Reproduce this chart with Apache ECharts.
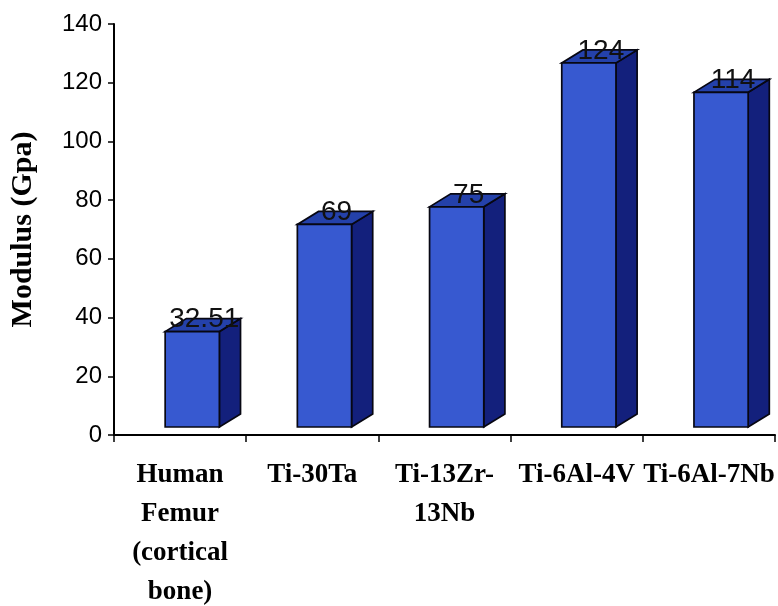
<!DOCTYPE html>
<html>
<head>
<meta charset="utf-8">
<script src="https://cdn.jsdelivr.net/npm/echarts@6/dist/echarts.min.js"></script>
<style>
  html, body { margin: 0; padding: 0; background: #ffffff; }
  #chart { width: 778px; height: 606px; }
</style>
</head>
<body>
<div id="chart"></div>
<script>
// Elastic modulus of cortical bone and titanium alloys
const categories = ['Human\nFemur\n(cortical\nbone)', 'Ti-30Ta', 'Ti-13Zr-\n13Nb', 'Ti-6Al-4V', 'Ti-6Al-7Nb'];
const modulus = [32.51, 69, 75, 124, 114];
const axisMin = 0;
const axisMax = 140;
const axisStep = 20;

const FRONT = '#3759d0';
const SIDE = '#13207c';
const TOP = '#2441aa';
const EDGE = '#070712';

// Draws one box-shaped column: front face, right side face, top face and value label
function renderBox(params, api) {
  const idx = api.value(0);
  const val = api.value(1);
  const base = api.coord([idx, 0]);
  const peak = api.coord([idx, val]);
  const band = api.size([1, 0])[0];

  const lift = 8;            // floor depth: columns stand behind the axis plane
  const w = band * 0.41;     // front face width
  const dx = band * 0.16;    // depth, horizontal
  const dy = -13;            // depth, vertical
  const x1 = base[0] - band * 0.113;
  const x2 = x1 + w;
  const yb = base[1] - lift;
  const yt = peak[1] - lift;

  const line = { stroke: EDGE, lineWidth: 1.7 };

  return {
    type: 'group',
    children: [
      {
        type: 'polygon',
        shape: { points: [[x2, yt], [x2 + dx, yt + dy], [x2 + dx, yb + dy], [x2, yb]] },
        style: Object.assign({ fill: SIDE }, line)
      },
      {
        type: 'polygon',
        shape: { points: [[x1, yt], [x2, yt], [x2 + dx, yt + dy], [x1 + dx, yt + dy]] },
        style: Object.assign({ fill: TOP }, line)
      },
      {
        type: 'rect',
        shape: { x: x1, y: yt, width: w, height: yb - yt },
        style: Object.assign({ fill: FRONT }, line)
      },
      {
        type: 'text',
        style: {
          text: String(val),
          x: (x1 + x2) / 2 + 12,
          y: yt + 2,
          align: 'center',
          verticalAlign: 'bottom',
          font: '28px "Liberation Sans", Arial, sans-serif',
          fill: '#111111'
        }
      }
    ]
  };
}

const chart = echarts.init(document.getElementById('chart'), null, { renderer: 'canvas' });

chart.setOption({
  backgroundColor: '#ffffff',
  animation: false,
  grid: { left: 114, right: 3, top: 24, bottom: 171, containLabel: false, outerBoundsMode: 'none' },
  xAxis: {
    type: 'category',
    data: categories,
    boundaryGap: true,
    axisLine: { lineStyle: { color: '#000000', width: 2 } },
    axisTick: { show: true, length: 7, alignWithLabel: false, lineStyle: { color: '#000000', width: 1.5 } },
    axisLabel: {
      interval: 0,
      margin: 21,
      color: '#000000',
      fontFamily: '"Liberation Serif", "Times New Roman", serif',
      fontWeight: 'bold',
      fontSize: 27,
      lineHeight: 39,
      hideOverlap: false
    },
    splitLine: { show: false }
  },
  yAxis: {
    type: 'value',
    min: axisMin,
    max: axisMax,
    interval: axisStep,
    name: 'Modulus (Gpa)',
    nameLocation: 'middle',
    nameGap: 76,
    nameTextStyle: {
      color: '#000000',
      fontFamily: '"Liberation Serif", "Times New Roman", serif',
      fontWeight: 'bold',
      fontSize: 30
    },
    axisLine: { show: true, lineStyle: { color: '#000000', width: 2 } },
    axisTick: { show: true, length: 6, inside: false, lineStyle: { color: '#000000', width: 1.5 } },
    axisLabel: {
      margin: 12,
      color: '#000000',
      fontFamily: '"Liberation Sans", Arial, sans-serif',
      fontSize: 24
    },
    splitLine: { show: false }
  },
  series: [{
    type: 'custom',
    renderItem: renderBox,
    data: modulus.map((v, i) => [i, v]),
    encode: { x: 0, y: 1 },
    clip: false
  }]
});
</script>
</body>
</html>
